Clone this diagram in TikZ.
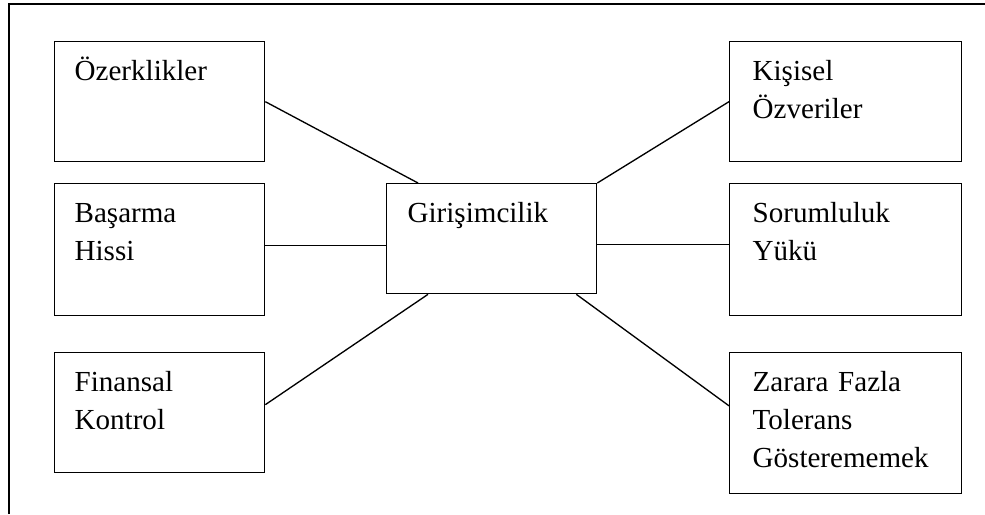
\documentclass[tikz,border=0pt]{standalone}
\usepackage{fontspec}
\setmainfont{Liberation Serif}
\usepackage{tikz}
\newcommand{\boxline}{1pt}
\newcommand{\toph}{29.25pt}

\begin{document}
\begin{tikzpicture}[x=0.75pt,y=-0.75pt]
        \begin{scope}
            %\draw[help lines] (0,0) grid[step=50] (985,514);
            \useasboundingbox (0,0) rectangle (985,514);
            \tikzset{faktor/.style = {draw, line width=\boxline, rectangle, anchor=north west,
                    inner ysep=0pt, align=left, text height=\toph,
                    font=\fontsize{21.8}{28.5}\selectfont}}
            \tikzset{solk/.style = {faktor, inner xsep=15pt, text width=127.5pt}}
            \tikzset{sag/.style = {faktor, inner xsep=17.25pt, text width=139.5pt}}
            \tikzset{bag/.style = {line width=\boxline}}
            \draw[bag] (9,514) -- (9,4) -- (985,4);

            \node[solk, text depth=60.75pt] (ozr) at (54,41) {Özerklikler};
            \node[solk, text depth=69.75pt] (bas) at (54,183) {Başarma\\Hissi};
            \node[solk, text depth=60.75pt] (fin) at (54,352) {Finansal\\Kontrol};

            \node[faktor, inner xsep=15.75pt, text width=126pt, text depth=53.25pt] (gir) at (386,183) {Girişimcilik};

            \node[sag, text depth=60.75pt] (kis) at (729,41) {Kişisel\\Özveriler};
            \node[sag, text depth=69.75pt] (sor) at (729,183) {Sorumluluk\\Yükü};
            \node[sag, text depth=76.5pt] (zar) at (729,352) {Zarara Fazla\\Tolerans\\Gösterememek};

            \draw[bag] (ozr.east) -- ([xshift=24pt]gir.north west);
            \draw[bag] ([yshift=3pt]bas.east) -- ([yshift=3pt]bas.east -| gir.west);
            \draw[bag] ([yshift=6pt]fin.east) -- ([xshift=31.5pt]gir.south west);

            \draw[bag] (kis.west) -- (gir.north east);
            \draw[bag] ([yshift=4pt]sor.west) -- ([yshift=4pt]sor.west -| gir.east);
            \draw[bag] ([yshift=13pt]zar.west) -- ([xshift=-15.75pt]gir.south east);
        \end{scope}
    \end{tikzpicture}
\end{document}
